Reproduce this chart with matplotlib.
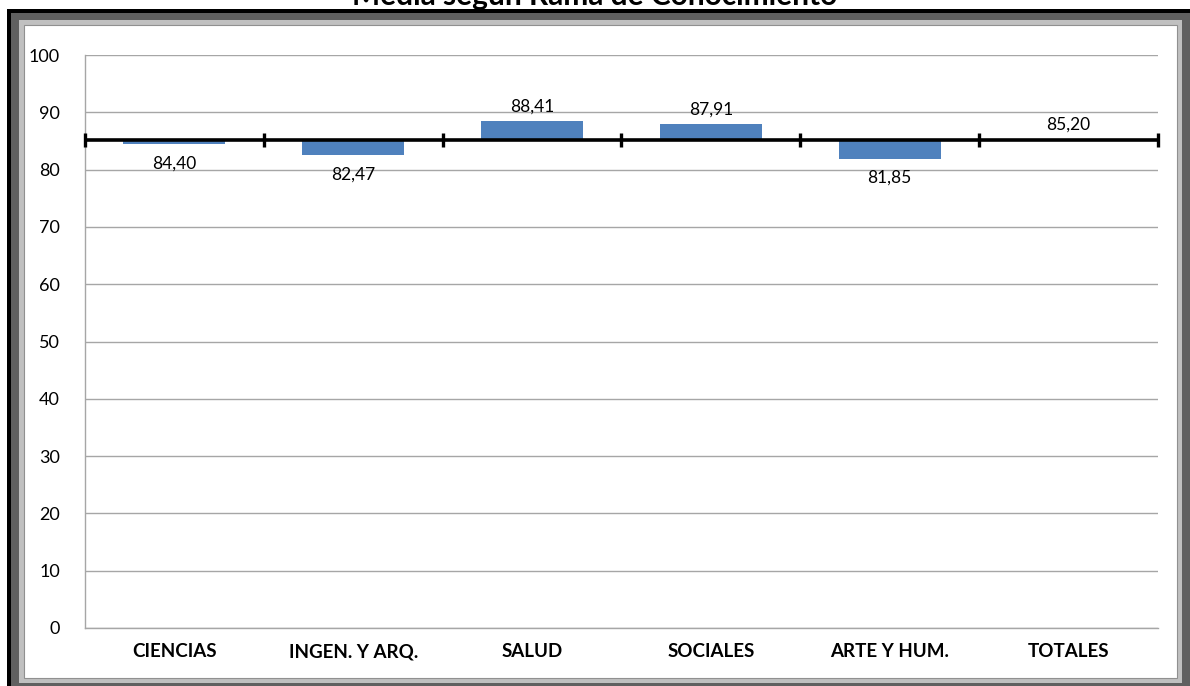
import matplotlib.pyplot as plt
from matplotlib.patches import Rectangle

plt.rcParams['font.family'] = ['Lato', 'DejaVu Sans']

# datos
ramas = ['CIENCIAS', 'INGEN. Y ARQ.', 'SALUD', 'SOCIALES', 'ARTE Y HUM.', 'TOTALES']
medias = [84.40, 82.47, 88.41, 87.91, 81.85, 85.20]
mediaTotal = 85.20
yTicks = [0, 10, 20, 30, 40, 50, 60, 70, 80, 90, 100]

W, H = 1190, 686
fig = plt.figure(figsize=(W / 100, H / 100), dpi=100)

# marco exterior
def rect(x0, y0, x1, y1, **kw):
    fig.patches.append(Rectangle((x0 / W, 1 - y1 / H), (x1 - x0) / W, (y1 - y0) / H,
                                 transform=fig.transFigure, zorder=-10, **kw))

rect(7, 9, W, H, facecolor='black', edgecolor='none')
rect(11, 13, W, H, facecolor='#606060', edgecolor='none')
rect(19, 20, 1182, 683, facecolor='#c0c0c0', edgecolor='none')
rect(24, 25, 1177, 678, facecolor='white', edgecolor='#909090', linewidth=0.8)

fig.text(0.5, 1 - 5 / H, 'Media según Rama de Conocimiento', ha='center', va='baseline',
         fontsize=21.5, fontweight='bold')

ax = fig.add_axes([85 / W, 1 - 628 / H, (1158 - 85) / W, (628 - 55) / H])
ax.set_zorder(1)
ax.set_facecolor('none')

x = range(len(ramas))
difs = [m - mediaTotal for m in medias]
ax.bar(x, difs, bottom=mediaTotal, width=0.57, color='#4f81bd', zorder=3)

# eje horizontal en la media total
ax.axhline(mediaTotal, color='black', linewidth=2.6, zorder=4)
bordes = [i - 0.5 for i in range(len(ramas) + 1)]
ax.plot(bordes, [mediaTotal] * len(bordes), linestyle='none', marker='|',
        markersize=10, markeredgewidth=2.4, color='black', zorder=5, clip_on=False)

# etiquetas de datos
for i, m in enumerate(medias):
    txt = f'{m:.2f}'.replace('.', ',')
    if m >= mediaTotal:
        ax.annotate(txt, (i, m), xytext=(0, 5), textcoords='offset points',
                    ha='center', va='bottom', fontsize=12.5)
    else:
        ax.annotate(txt, (i, m), xytext=(0, -8), textcoords='offset points',
                    ha='center', va='top', fontsize=12.5)

ax.set_xlim(-0.5, len(ramas) - 0.5)
ax.set_ylim(0, 100)
ax.set_yticks(yTicks)
ax.set_yticklabels([str(t) for t in yTicks], fontsize=13)
ax.set_xticks(list(x))
ax.set_xticklabels(ramas, fontsize=13.5, fontweight='bold')
ax.tick_params(axis='both', length=0)
ax.tick_params(axis='y', pad=18)
ax.tick_params(axis='x', pad=11)
ax.grid(axis='y', color='#a6a6a6', linewidth=1)
ax.set_axisbelow(True)
for s in ['top', 'right']:
    ax.spines[s].set_visible(False)
for s in ['left', 'bottom']:
    ax.spines[s].set_color('#a6a6a6')
    ax.spines[s].set_linewidth(1)

fig.savefig('out.png', dpi=100)
